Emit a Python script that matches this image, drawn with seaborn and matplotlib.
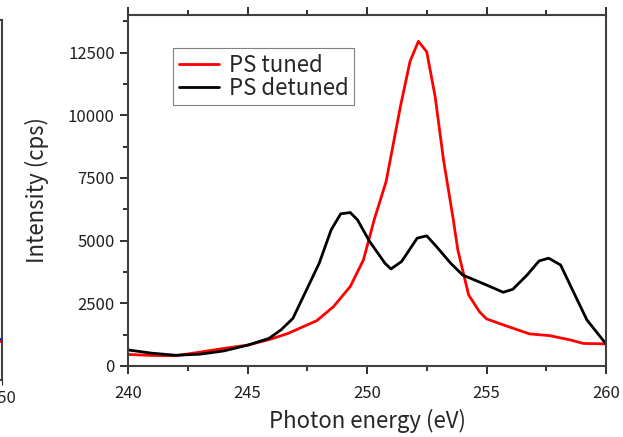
import numpy as np
import pandas as pd
import seaborn as sns
import matplotlib.pyplot as plt
from matplotlib.ticker import MultipleLocator

# photon energy (eV) / intensity (cps)
tuned_e = [240.0, 241.0, 242.0, 243.0, 244.0, 245.0, 246.0, 246.7, 247.5, 247.9,
           248.6, 249.3, 249.85, 250.3, 250.8, 251.4, 251.8, 252.15, 252.5, 252.85,
           253.2, 253.6, 253.8, 254.25, 254.7, 255.0, 255.7, 256.8, 257.65, 258.5,
           259.05, 260.0]
tuned_i = [460, 420, 410, 550, 700, 830, 1080, 1300, 1640, 1810,
           2370, 3170, 4230, 5830, 7360, 10360, 12150, 12950, 12530, 10750,
           8230, 5900, 4630, 2840, 2170, 1880, 1640, 1280, 1210, 1040,
           900, 880]

detuned_e = [240.0, 241.0, 242.0, 243.0, 244.0, 245.0, 245.9, 246.4, 246.9, 248.0,
             248.5, 248.9, 249.3, 249.6, 250.1, 250.75, 251.0, 251.45, 252.1, 252.5,
             252.9, 253.5, 254.0, 255.0, 255.7, 256.1, 256.7, 257.2, 257.6, 258.1,
             258.6, 259.2, 260.0]
detuned_i = [640, 510, 427, 470, 600, 830, 1100, 1440, 1900, 4100,
             5430, 6070, 6120, 5830, 4980, 4100, 3870, 4170, 5100, 5190,
             4770, 4100, 3630, 3230, 2940, 3060, 3630, 4190, 4300, 4030,
             3030, 1840, 880]

# neighbouring panel, only its right edge shows
left_e = [249.0, 250.0]
left_red = [1520, 1520]
left_blue = [1600, 1600]

df = pd.concat([
    pd.DataFrame({'E': tuned_e, 'I': tuned_i, 'kind': 'PS tuned'}),
    pd.DataFrame({'E': detuned_e, 'I': detuned_i, 'kind': 'PS detuned'}),
])

sns.set_style("ticks")
plt.rcParams['font.family'] = ['Noto Sans CJK JP', 'DejaVu Sans']
plt.rcParams['axes.edgecolor'] = '#404040'
plt.rcParams['axes.linewidth'] = 1.5

fig = plt.figure(figsize=(6.23, 4.37), dpi=100)

# partial left panel
axl = fig.add_axes([-0.4, 0.130, 0.404, 0.824])
axl.plot(left_e, left_blue, color='blue', lw=2)
axl.plot(left_e, left_red, color='red', lw=2)
axl.set_xlim(230, 250)
axl.set_ylim(0, 14000)
axl.set_xticks([250])
axl.set_yticks([])
axl.tick_params(labelsize=12)

ax = fig.add_axes([0.2055, 0.1625, 0.7672, 0.8032])
sns.lineplot(data=df, x='E', y='I', hue='kind', palette=['red', 'black'],
             lw=2, sort=False, ax=ax)
ax.set_xlim(240, 260)
ax.set_ylim(0, 14000)
ax.xaxis.set_major_locator(MultipleLocator(5))
ax.xaxis.set_minor_locator(MultipleLocator(2.5))
ax.yaxis.set_major_locator(MultipleLocator(2500))
ax.yaxis.set_minor_locator(MultipleLocator(1250))
ax.tick_params(which='both', top=True, right=False, direction='out',
               colors='#202020', width=1.3, labelsize=12)
ax.tick_params(which='major', length=6)
ax.tick_params(axis='x', which='major', pad=8)
ax.tick_params(which='minor', length=3.5)
ax.set_xlabel('Photon energy (eV)', fontsize=16, labelpad=5)
ax.set_ylabel('Intensity (cps)', fontsize=16, labelpad=14)

leg = ax.legend(loc='upper left', bbox_to_anchor=(0.094, 0.906), fontsize=16,
                fancybox=False, edgecolor='#808080', framealpha=1,
                borderaxespad=0, handlelength=1.8, borderpad=0.25,
                labelspacing=0.0, handletextpad=0.45)
leg.get_frame().set_linewidth(0.8)

plt.savefig('out.png', dpi=100)
